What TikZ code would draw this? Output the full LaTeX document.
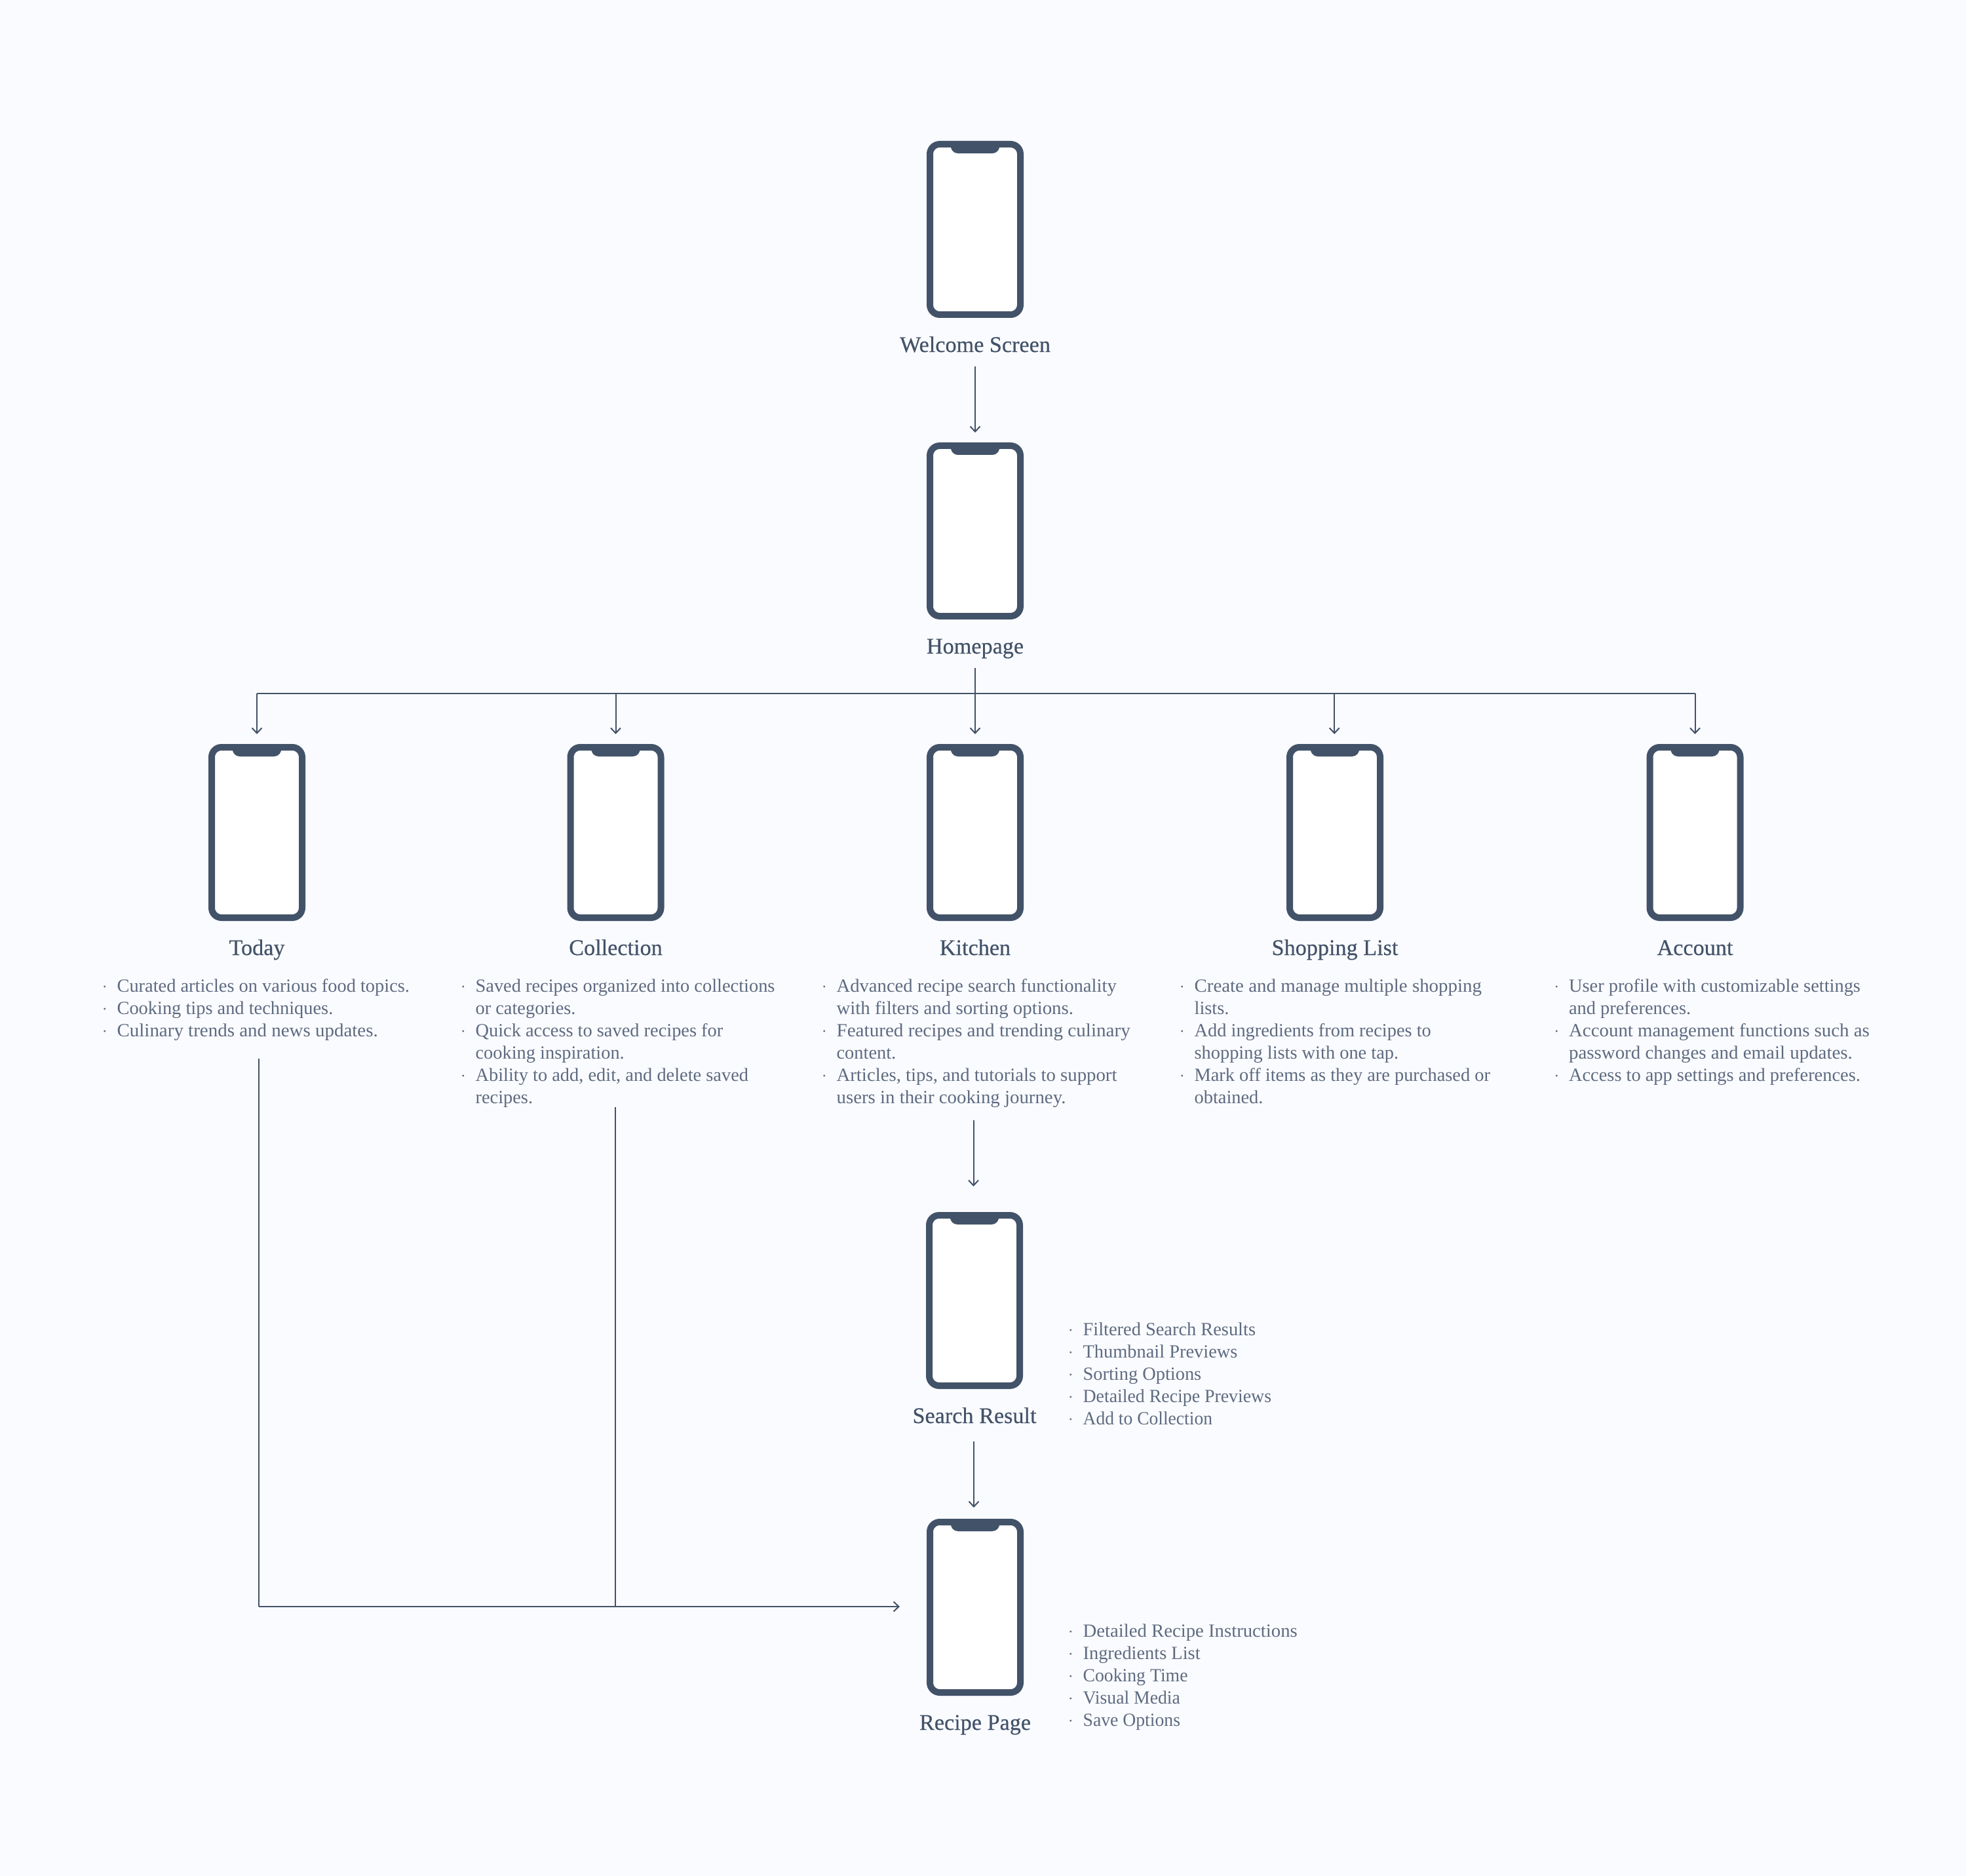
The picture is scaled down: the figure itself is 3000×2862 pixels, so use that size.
\documentclass[tikz,border=0pt]{standalone}
\usepackage{fontspec}
\usepackage{graphicx}
\usetikzlibrary{arrows.meta,calc}
\setmainfont{Liberation Serif}
\newfontfamily\labelfont[FakeBold=0.4]{Liberation Serif}
\definecolor{ink}{HTML}{425268}
\definecolor{soft}{HTML}{5E6B80}
\definecolor{paper}{HTML}{FAFBFF}
\newcommand{\bl}[2][1]{\hbox{\makebox[9.6pt][l]{\hspace{-1.75pt}\fontsize{12}{12}\selectfont\textperiodcentered}\scalebox{#1}[1]{#2}}}
\newcommand{\cl}[2][1]{\hbox{\hspace{9.6pt}\scalebox{#1}[1]{#2}}}
\newcommand{\lst}[1]{\vtop{\baselineskip=17.05pt\lineskiplimit=-20pt #1}}
\tikzset{
  x=0.5pt,y=-0.5pt,
  phonebox/.style={draw=ink,fill=white,line width=5pt,rounded corners=7.5pt,minimum width=69pt,minimum height=130pt,inner sep=0pt},
  screenlabel/.style={text=ink,font=\labelfont\fontsize{17.1}{20}\selectfont,anchor=base,inner sep=0pt},
  listbox/.style={text=soft,font=\fontsize{14.2}{17}\selectfont,anchor=base west,inner sep=0pt},
  conn/.style={draw=ink,line width=1pt},
  arrowconn/.style={conn,-{Straight Barb[length=4pt,width=7.5pt,line width=1pt]}}
}
\newcommand{\phone}[4]{%
  \node[phonebox] (#1) at (#2,#3+135) {};
  \fill[ink,shift={(#1.north)}] (-38,5) .. controls (-37,14) and (-33,19) .. (-26,19) -- (26,19) .. controls (33,19) and (37,14) .. (38,5) -- cycle;
  \node[screenlabel] (#1l) at (#2,#3+322) {#4};
}
\begin{document}
\begin{tikzpicture}
\useasboundingbox (0,0) rectangle (3000,2862);
\fill[paper] (0,0) rectangle (3000,2862);
\begin{scope}[yshift=-0.5pt]
\phone{welcome}{1488}{214}{Welcome Screen}
\phone{home}{1488}{674}{Homepage}
\phone{today}{392}{1134}{Today}
\phone{coll}{939.5}{1134}{Collection}
\phone{kit}{1488}{1134}{Kitchen}
\phone{shop}{2037}{1134}{Shopping List}
\phone{acc}{2586.5}{1134}{Account}
\phone{search}{1487}{1848}{Search Result}
\phone{recipe}{1488}{2316}{Recipe Page}

\node[listbox] (ltoday) at (159,1512) {\lst{%
  \bl{Curated articles on various food topics.}
  \bl{Cooking tips and techniques.}
  \bl[1.02]{Culinary trends and news updates.}}};
\node[listbox] (lcoll) at (706,1512) {\lst{%
  \bl{Saved recipes organized into collections}
  \cl{or categories.}
  \bl{Quick access to saved recipes for}
  \cl{cooking inspiration.}
  \bl{Ability to add, edit, and delete saved}
  \cl{recipes.}}};
\node[listbox] (lkit) at (1257,1512) {\lst{%
  \bl[1.009]{Advanced recipe search functionality}
  \cl[1.016]{with filters and sorting options.}
  \bl[1.026]{Featured recipes and trending culinary}
  \cl{content.}
  \bl[1.014]{Articles, tips, and tutorials to support}
  \cl[1.016]{users in their cooking journey.}}};
\node[listbox] (lshop) at (1803,1512) {\lst{%
  \bl[1.018]{Create and manage multiple shopping}
  \cl{lists.}
  \bl{Add ingredients from recipes to}
  \cl{shopping lists with one tap.}
  \bl{Mark off items as they are purchased or}
  \cl{obtained.}}};
\node[listbox] (lacc) at (2374.5,1512) {\lst{%
  \bl{User profile with customizable settings}
  \cl{and preferences.}
  \bl[1.017]{Account management functions such as}
  \cl[1.018]{password changes and email updates.}
  \bl{Access to app settings and preferences.}}};
\node[listbox] (lsearch) at (1633,2036) {\lst{%
  \bl{Filtered Search Results}
  \bl{Thumbnail Previews}
  \bl{Sorting Options}
  \bl[0.98]{Detailed Recipe Previews}
  \bl[0.97]{Add to Collection}}};
\node[listbox] (lrecipe) at (1633,2496) {\lst{%
  \bl[1.012]{Detailed Recipe Instructions}
  \bl{Ingredients List}
  \bl[0.976]{Cooking Time}
  \bl[0.975]{Visual Media}
  \bl[0.975]{Save Options}}};

% vertical chain
\draw[arrowconn] ($(welcomel.base)+(0,22)$) -- ($(home.north)+(0,-15)$);
\draw[arrowconn] ($(homel.base)+(0,22)$) -- ($(kit.north)+(0,-15)$);
% bus
\coordinate (busL) at ($(today.north)+(0,-77)$);
\coordinate (busR) at ($(acc.north)+(0,-77)$);
\coordinate (busC) at ($(coll.north)+(0,-77)$);
\coordinate (busS) at ($(shop.north)+(-0.8,-77)$);
\draw[conn] (busL) -- (busR);
\draw[arrowconn] (busL) -- ($(today.north)+(0,-15)$);
\draw[arrowconn] (busC) -- ($(coll.north)+(0,-15)$);
\draw[arrowconn] (busS) -- ($(shop.north)+(-0.8,-15)$);
\draw[arrowconn] (busR) -- ($(acc.north)+(0,-15)$);
% kitchen to search, search to recipe
\draw[arrowconn] ($(search.north)+(-1.5,-140)$) -- ($(search.north)+(-1.5,-39)$);
\draw[arrowconn] ($(searchl.base)+(-1,28)$) -- ($(recipe.north)+(-2,-17)$);
% merge into recipe
\coordinate (mergeT) at (395,2450);
\coordinate (mergeC) at (939,2450);
\coordinate (mergeE) at ($(recipe.west)+(-41,-1)$);
\draw[conn] (395,1614) -- (mergeT);
\draw[conn] (939,1688) -- (mergeC);
\draw[arrowconn] (mergeT) -- (mergeE);
\end{scope}
\end{tikzpicture}
\end{document}
